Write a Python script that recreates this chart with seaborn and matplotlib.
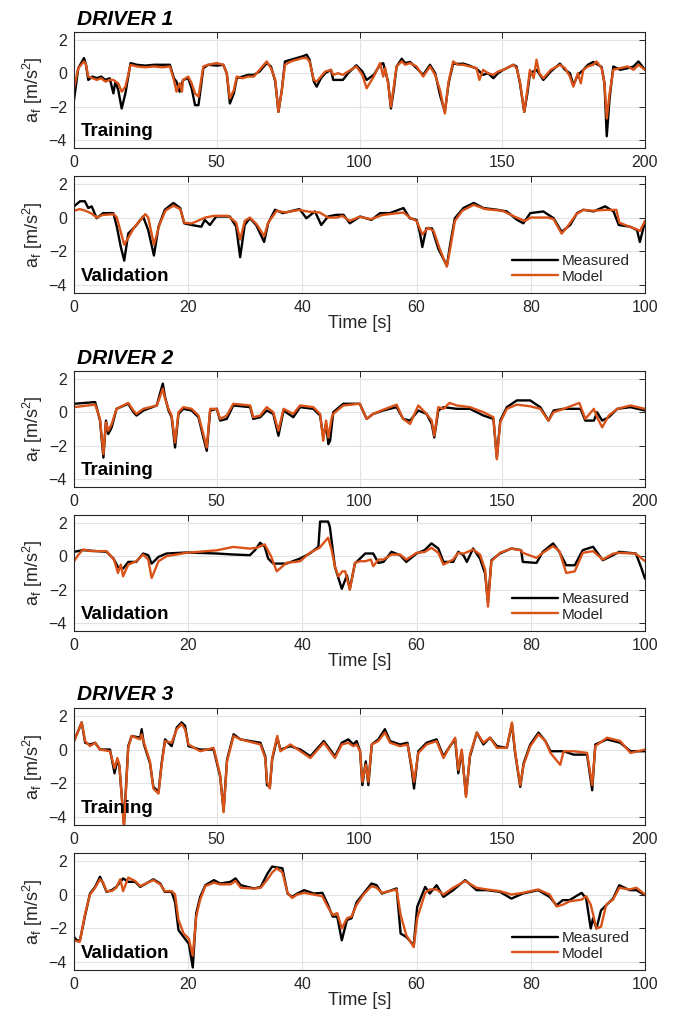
import matplotlib
matplotlib.use("Agg")
import matplotlib.pyplot as plt
import seaborn as sns
import pandas as pd

# ---------------- data (time [s], a_f [m/s^2]) ----------------
d1_train_meas = [(0,-1.6),(1.5,0.3),(3.5,0.9),(4.2,0.5),(5.0,-0.4),(6.5,-0.2),(8,-0.3),(9.5,-0.2),(11,-0.4),(12.5,-0.3),
    (13.8,-1.2),(14.5,-0.5),(15.5,-1.0),(16.7,-2.1),(18,-1.2),(19.8,0.6),(22,0.5),(25,0.45),(28,0.5),(31,0.5),(33.6,0.5),
    (35,-0.3),(35.9,-0.5),(37,-1.1),(38.2,-0.4),(40,-0.3),(41.2,-0.9),(42.4,-1.9),(43.6,-1.9),(45.3,0.3),(47,0.5),(50,0.45),
    (52.3,0.5),(53.5,0.0),(54.6,-1.8),(56,-1.2),(57,-0.3),(59,-0.2),(61,-0.1),(63,-0.1),(65,0.1),(67.5,0.6),(69,0.4),
    (70.5,-0.5),(71.6,-2.3),(72.8,-1.0),(73.9,0.7),(76,0.8),(78,0.9),(80,1.0),(81.5,1.1),(82.5,0.8),(84,-0.5),(85,-0.8),
    (86.5,-0.3),(88,0.0),(90,0.2),(90.8,-0.4),(92.5,-0.4),(94.2,-0.4),(96,0.0),(98.9,0.47),(101,0.1),(102.5,-0.4),
    (105,-0.1),(107.2,0.5),(108.3,0.6),(110,-0.5),(111,-2.1),(112,-1.0),(113,0.4),(114.8,0.86),(116,0.6),(117.7,0.67),
    (120,0.3),(122.3,-0.1),(124.7,0.5),(126.5,0.0),(128.2,-1.3),(129.9,-2.3),(131.2,-0.6),(132.8,0.57),(134.5,0.55),
    (136.4,0.57),(138.5,0.45),(141,0.27),(143.3,-0.1),(145,0.0),(146.9,-0.3),(148.5,0.0),(150.4,0.2),(153.9,0.5),
    (155,0.4),(156.2,-0.6),(157.7,-2.3),(158.8,-1.2),(159.7,0.0),(162,0.2),(164.4,-0.4),(167,0.1),(170.2,0.57),
    (172,0.2),(173.7,0.0),(174.9,-0.7),(176.5,-0.1),(178.4,0.2),(180,0.5),(181.9,0.67),(184.8,0.37),(185.8,-0.6),
    (186.6,-3.75),(187.6,-1.5),(188.9,0.4),(191.3,0.2),(194,0.3),(196,0.4),(197.7,0.7),(200,0.2)]
d1_train_model = [(0,-0.9),(1.5,0.3),(3.5,0.7),(4.2,0.5),(5.0,-0.2),(6.5,-0.3),(8,-0.4),(9.5,-0.3),(11,-0.5),(12.5,-0.4),
    (13.8,-0.4),(14.5,-0.5),(15.5,-0.6),(16.7,-1.1),(18,-0.8),(19.8,0.5),(22,0.4),(25,0.35),(28,0.4),(31,0.35),(33.6,0.4),
    (35,-0.4),(35.9,-1.1),(37,-0.6),(37.8,-1.1),(38.2,-0.4),(40,-0.2),(41.2,-0.6),(42.4,-1.2),(43.6,-1.4),(45.3,0.4),(47,0.5),
    (50,0.6),(52.3,0.5),(53.5,0.0),(54.6,-1.5),(56,-1.0),(57,-0.2),(59,-0.3),(61,-0.2),(63,-0.2),(65,0.2),(67.5,0.7),(69,0.3),
    (70.5,-0.4),(71.6,-2.3),(72.8,-1.0),(73.9,0.5),(76,0.7),(78,0.8),(80,0.9),(81.5,0.9),(82.5,0.7),(84,-0.4),(85,-0.5),
    (86.5,-0.2),(88,0.1),(90,0.2),(90.8,-0.1),(92.5,0.0),(94.2,-0.1),(96,0.1),(98.9,0.4),(101,-0.1),(102.5,-0.9),
    (105,-0.2),(107.2,0.6),(108.3,-0.2),(109,0.3),(110,-0.6),(111,-2.0),(112,-0.8),(113,0.4),(114.8,0.7),(116,0.5),
    (117.7,0.6),(120,0.4),(122.3,-0.2),(124.7,0.4),(126.5,-0.1),(128.2,-1.0),(129.9,-2.4),(131.2,-0.5),(132.8,0.7),
    (134.5,0.5),(136.4,0.5),(138.5,0.4),(141,0.3),(142,-0.4),(143.3,0.2),(145,0.0),(146.9,-0.1),(148.5,0.1),(150.4,0.2),
    (153.9,0.5),(155,0.3),(156.2,-0.5),(157.7,-2.3),(158.8,-1.0),(159.7,0.2),(161,-0.3),(162,0.8),(163,0.0),(164.4,-0.3),
    (167,0.2),(170.2,0.5),(172,0.3),(173.7,-0.2),(174.9,-0.8),(176.5,0.0),(177.5,-0.6),(178.4,0.2),(180,0.4),(181.9,0.5),
    (183,0.7),(184.8,0.3),(185.8,-0.6),(186.6,-2.7),(187.6,-1.2),(188.9,0.2),(191.3,0.3),(194,0.4),(196,0.2),(197.7,0.5),
    (200,0.2)]

d1_val_meas = [(0,0.66),(1.05,0.96),(1.9,0.96),(2.5,0.56),(3.1,0.66),(3.96,-0.04),(5.1,0.26),(6.9,0.26),(7.5,-0.54),
    (8.2,-1.74),(8.8,-2.54),(9.5,-0.94),(10.7,-0.54),(12.1,0.06),(13,-0.74),(14,-2.24),(14.8,-0.54),(15.9,0.46),
    (17.4,0.86),(18.6,0.56),(19.3,-0.34),(20.6,-0.44),(22.3,-0.54),(22.9,-0.14),(23.8,-0.44),(24.9,0.06),(27.3,0.06),
    (28.4,-0.54),(29.1,-2.34),(29.9,-0.44),(30.8,-0.04),(31.9,-0.44),(33.3,-1.44),(34,-0.34),(35.2,0.46),(36.6,0.26),
    (39.5,0.5),(40.7,-0.04),(42.2,0.36),(43.3,-0.44),(44.5,0.06),(45.9,0.16),(47.2,0.16),(48.3,-0.34),(50.1,0.06),
    (52.1,-0.14),(53.6,0.26),(55.3,0.26),(57.7,0.56),(58.8,-0.04),(60,-0.14),(60.6,-0.94),(61,-1.74),(61.7,-0.64),
    (62.7,-0.64),(63.8,-1.84),(64.7,-2.44),(65.3,-2.84),(65.9,-1.54),(66.7,-0.04),(68.2,0.56),(70,0.86),(71.7,0.56),
    (74.1,0.46),(75.8,0.36),(77.6,-0.14),(78.7,-0.34),(79.9,0.26),(82.2,0.36),(84,-0.04),(85.4,-0.84),(86.9,-0.44),
    (88.1,0.26),(89.2,0.46),(91,0.36),(93,0.66),(94.5,0.36),(95.4,-0.44),(97.4,-0.54),(98.6,-0.74),(99.1,-1.44),(100,-0.24)]
d1_val_model = [(0,0.4),(1,0.5),(2,0.4),(3,0.25),(4,0.0),(5,0.15),(7,0.2),(7.5,0.0),(8.8,-1.6),(9.5,-1.2),(10.5,-0.6),
    (12.5,0.2),(13,0.0),(14,-1.6),(15,-0.4),(16,0.4),(17.4,0.7),(18.6,0.5),(19.3,-0.3),(20.6,-0.35),(23,0.0),(24.5,0.1),
    (27,0.1),(28.4,-0.3),(29.1,-1.3),(29.9,-0.2),(30.8,0.0),(32,-0.4),(33.3,-1.1),(34,-0.3),(35.5,0.4),(37,0.3),(39.5,0.45),
    (41,0.35),(43,0.3),(44.5,0.0),(46,0.0),(47,0.1),(48.3,-0.2),(50,0.05),(52,-0.1),(54,0.15),(57.7,0.3),(58.8,0.0),
    (60,-0.2),(61,-1.0),(62,-0.6),(63,-0.8),(64,-1.8),(65.3,-2.9),(66,-1.6),(66.7,-0.2),(68,0.4),(70,0.75),(72,0.5),
    (75,0.4),(77.5,0.0),(79,-0.2),(80,0.0),(83,0.0),(84,-0.1),(85.4,-0.95),(86.5,-0.5),(88,0.2),(89.2,0.45),(91,0.4),
    (93,0.45),(95,0.45),(95.5,-0.3),(97,-0.5),(98.6,-0.7),(99.1,-0.8),(100,-0.2)]

d2_train_meas = [(0,0.5),(7.4,0.6),(7.9,0.3),(9.1,-0.5),(10.3,-2.7),(11.2,-0.5),(12,-1.3),(13.2,-0.9),(14.9,0.2),
    (19,0.5),(20.8,0.0),(21.9,-0.2),(24.3,0.1),(29,0.4),(30.1,1.1),(31.1,1.7),(31.9,0.9),(33.1,0.1),(34.2,-0.3),
    (35.4,-2.1),(36.6,-0.1),(38.3,0.2),(41.2,0.1),(43.6,-0.3),(45.3,-1.5),(46.5,-2.3),(47.7,0.1),(50,0.2),(51.2,-0.5),
    (53.5,-0.4),(55.8,0.4),(61.7,0.3),(62.8,-0.4),(65.2,-0.3),(67.5,0.1),(69.8,-0.1),(71.6,-1.4),(73.4,0.1),(76.8,-0.3),
    (79.2,0.3),(83.8,0.2),(86.2,-0.2),(87.3,-1.5),(88.3,-0.7),(89.1,-1.9),(89.7,-1.7),(90.8,0.0),(94.3,0.5),(100.1,0.5),
    (102.5,-0.4),(104.8,-0.1),(108.3,0.1),(113,0.3),(115.3,-0.4),(117.7,-0.5),(120.6,0.1),(123.5,-0.1),(125.3,-0.7),
    (126.2,-1.5),(127.6,0.1),(129.4,0.3),(134.1,0.2),(138.7,0.2),(143.4,-0.2),(146.9,-0.4),(148.1,-2.7),(149.3,-0.5),
    (151.6,0.3),(155.1,0.7),(159.8,0.7),(163.3,0.3),(166.2,-0.5),(168,0.1),(171.5,0.2),(177.4,0.2),(179.1,-0.5),
    (182.1,-0.5),(183.2,0.0),(185,-0.5),(187.3,-0.3),(190.3,0.2),(194.9,0.3),(200,0.1)]
d2_train_model = [(0,0.3),(7.4,0.45),(7.9,0.2),(9.1,-0.4),(10.3,-2.5),(11.2,-0.6),(12,-1.1),(13.2,-0.7),(14.9,0.2),
    (19,0.55),(20.8,0.1),(21.9,-0.1),(24.3,0.2),(29,0.4),(30.1,0.9),(31.1,1.4),(31.9,0.8),(33.1,0.2),(34.2,-0.2),
    (35.4,-1.8),(36.6,0.0),(38.3,0.3),(41.2,0.2),(43.6,-0.2),(45.3,-1.3),(46.5,-2.1),(47.7,0.2),(50,0.2),(51.2,-0.4),
    (53.5,-0.2),(55.8,0.5),(61.7,0.4),(62.8,-0.3),(65.2,-0.2),(67.5,0.3),(69.8,0.0),(71.6,-1.1),(73.4,0.2),(76.8,-0.1),
    (79.2,0.4),(83.8,0.3),(86.2,-0.1),(87.3,-1.7),(88.3,-0.5),(89.1,-1.5),(90.3,-0.3),(90.8,-0.1),(94.3,0.4),(100.1,0.5),
    (102.5,-0.4),(104.8,-0.1),(108.3,0.15),(113,0.45),(115.3,-0.4),(117.7,-0.7),(120.6,0.4),(123.5,-0.1),(125.3,-0.5),
    (126.2,-1.4),(127.6,0.3),(129.4,0.2),(131.5,0.55),(134.1,0.4),(138.7,0.3),(143.4,0.0),(146.9,-0.3),(148.1,-2.8),
    (149.3,-0.6),(151.6,0.2),(155.1,0.45),(159.8,0.35),(163.3,0.2),(166.2,-0.5),(168,0.0),(171.5,0.2),(177,0.55),
    (179.1,-0.4),(182.1,0.2),(183.2,-0.3),(185,-0.9),(187.3,-0.2),(190.3,0.2),(194.9,0.4),(200,0.2)]

d2_val_meas = [(0,0.26),(1.6,0.36),(5.7,0.26),(6.9,-0.14),(7.7,-0.64),(8.6,-0.74),(9.5,-0.34),(10.9,-0.34),(12.1,0.16),
    (13,0.06),(13.6,-0.44),(14.8,-0.04),(16.2,0.16),(19.7,0.22),(25,0.16),(27.9,0.1),(30.8,0.06),(31.7,0.36),(32.6,0.8),
    (33.4,0.56),(34,-0.14),(34.9,-0.44),(37.2,-0.44),(39.6,-0.14),(41.3,0.16),(42.8,0.56),(43.1,2.06),(44.5,2.06),
    (44.8,1.76),(45.1,0.96),(45.7,-0.64),(46.9,-1.94),(47.8,-1.14),(48.3,-1.94),(49.2,-0.44),(50.1,-0.14),(51,0.16),
    (52.4,0.16),(53.3,-0.4),(54.2,-0.34),(55.6,0.26),(57.1,0.06),(58.2,-0.34),(60,0.16),(61.4,0.36),(62.6,0.76),
    (63.8,0.46),(64.7,-0.34),(66.4,-0.34),(67.3,0.26),(68.2,0.06),(68.8,-0.34),(69.9,0.46),(71.1,-0.14),(72,-1.04),
    (72.5,-2.74),(73.1,-0.24),(74.6,0.16),(76.6,0.46),(78.3,0.36),(78.6,-0.34),(81,-0.4),(82.1,0.26),(83.9,0.76),
    (85,0.26),(86.2,-0.54),(87.7,-0.54),(89.1,0.36),(90.9,0.56),(92.6,-0.24),(94.4,0.06),(95.5,0.26),(98.4,0.16),
    (99.3,-0.64),(100,-1.34)]
d2_val_model = [(0,-0.3),(0.8,0.1),(1.6,0.4),(3,0.3),(5.7,0.3),(7,-0.2),(7.7,-1.0),(8.2,-0.5),(8.6,-1.2),(9.5,-0.5),
    (10.9,-0.3),(12.1,0.1),(13,-0.2),(13.6,-1.3),(14.8,-0.3),(16.2,0.0),(19.7,0.2),(25,0.35),(27.9,0.55),(30.8,0.45),
    (32,0.5),(33.4,0.7),(34.5,0.0),(35.5,-0.9),(37.2,-0.4),(39.6,-0.3),(41.3,0.2),(43,0.5),(44.5,1.1),(45.1,0.4),
    (45.7,-0.6),(46.3,-1.2),(47,-0.9),(47.5,-0.9),(48.3,-2.0),(49.2,-0.4),(50.1,-0.3),(51,-0.3),(52,-0.2),(52.4,-0.6),
    (53.3,-0.2),(54.2,-0.2),(55.6,0.1),(57.1,0.1),(58.2,-0.2),(60,0.2),(61.4,0.25),(62.6,0.5),(63.8,0.2),(64.7,-0.5),
    (66.4,-0.2),(67.3,0.2),(68.2,0.15),(69.9,0.4),(71.1,0.1),(72,-0.8),(72.5,-3.0),(73.1,-0.3),(74.6,0.2),(76.6,0.45),
    (78.3,0.35),(78.6,0.2),(81,-0.1),(82.1,0.2),(83.9,0.6),(85,0.3),(86.2,-1.0),(87.7,-0.9),(89.1,0.2),(90.9,0.3),
    (92.6,-0.2),(94.4,0.15),(95.5,0.2),(98.4,0.15),(100,-0.3)]

d3_train_meas = [(0,0.5),(2.7,1.6),(3.9,0.4),(5.6,0.3),(7.4,0.4),(9.1,0.0),(12.6,0.0),(14.2,-1.4),(15.2,-0.6),(15.9,-1.0),
    (17.5,-4.4),(19,0.2),(20.2,0.8),(23.2,0.7),(23.7,1.2),(24.5,0.3),(26.6,-0.8),(27.8,-2.2),(29.6,-2.5),(30.7,-0.8),
    (31.9,0.6),(34.2,0.2),(36,1.3),(37.7,1.6),(38.9,1.4),(40.1,0.2),(44.2,0.0),(48.9,0.0),(51.2,-1.6),(52.4,-3.6),
    (53.6,-0.6),(55.9,0.9),(58.3,0.6),(65.3,0.4),(67,-0.4),(67.6,-2.1),(68.6,-2.2),(69.4,-0.6),(71.2,0.7),(72.3,0.0),
    (75.8,0.2),(79.3,0.0),(82.8,-0.4),(87.5,0.5),(89.7,0.0),(91.4,-0.4),(93.8,0.4),(96.1,0.6),(97.8,0.3),(99,0.5),
    (100.2,-0.1),(101,-2.1),(102.2,-0.7),(103.1,-2.1),(104.3,0.3),(106.6,0.6),(108.9,1.2),(110.7,0.5),(114.2,0.3),
    (116.8,0.4),(118.3,-1.2),(119.1,-2.3),(120.6,-0.1),(123.5,0.4),(127,0.6),(129.4,-0.4),(131.7,0.2),(133.5,0.6),
    (134.6,-1.4),(135.8,-0.1),(137.3,-2.7),(138.7,-0.4),(141.1,1.0),(143.4,0.3),(145.7,0.7),(148.1,0.2),(151.6,0.1),
    (153.4,1.5),(154.5,-0.2),(156.3,-2.2),(157.5,-0.8),(159.8,0.3),(162.7,1.0),(165.1,0.5),(166.9,-0.1),(171.5,-0.1),
    (175,-0.3),(179.7,-0.3),(181.5,-2.4),(182.6,0.3),(186.7,0.6),(191.3,0.4),(194.9,-0.1),(200,-0.1)]
d3_train_model = [(0,0.5),(2.7,1.6),(3.9,0.5),(5.6,0.2),(7.4,0.4),(9.1,0.0),(12.6,-0.1),(14.2,-1.1),(15.2,-0.5),(15.9,-0.9),
    (17.5,-4.6),(19,0.1),(20.2,0.8),(23.2,0.6),(23.7,0.9),(24.5,0.4),(26.6,-0.7),(27.8,-2.3),(29.6,-2.6),(30.7,-0.9),
    (31.9,0.5),(34.2,0.4),(36,1.2),(37.7,1.5),(38.9,1.2),(40.1,0.3),(44.2,-0.1),(48.9,0.1),(51.2,-1.5),(52.4,-3.7),
    (53.6,-0.7),(55.9,0.8),(58.3,0.6),(65.3,0.3),(67,-0.5),(67.6,-1.9),(68.6,-2.3),(69.4,-0.5),(71.2,0.8),(72.3,-0.1),
    (75.8,0.3),(79.3,-0.1),(82.8,-0.5),(87.5,0.4),(89.7,-0.1),(91.4,-0.5),(93.8,0.3),(96.1,0.4),(97.8,0.2),(99,0.3),
    (100.2,-0.1),(101,-1.9),(102.2,-0.9),(103.1,-1.9),(104.3,0.3),(106.6,0.5),(108.9,1.0),(110.7,0.4),(114.2,0.2),
    (116.8,0.3),(118.3,-1.0),(119.1,-1.9),(120.6,-0.2),(123.5,0.3),(127,0.5),(129.4,-0.5),(131.7,0.2),(133.5,0.7),
    (134.6,-1.2),(135.8,0.0),(137.3,-2.8),(138.7,-0.3),(141.1,1.0),(143.4,0.4),(145.7,0.7),(148.1,0.1),(151.6,0.1),
    (153.4,1.6),(154.5,-0.1),(156.3,-2.1),(157.5,-0.9),(159.8,0.2),(162.7,0.9),(165.1,0.5),(166.9,-0.2),(170.3,-0.9),
    (171.5,-0.1),(175,-0.1),(179.7,-0.2),(181.5,-2.1),(182.6,0.2),(186.7,0.7),(191.3,0.5),(194.9,-0.2),(200,0.0)]

d3_val_meas = [(0,-2.5),(0.5,-2.7),(1.05,-2.7),(1.9,-1.3),(2.8,0.06),(3.7,0.45),(4.55,1.05),(5.1,0.65),(5.7,0.16),
    (6.6,0.26),(7.4,0.45),(8.6,0.95),(9.5,0.75),(10.7,0.75),(11.6,0.45),(13.9,0.9),(15.1,0.65),(15.9,0.16),(17.1,0.16),
    (17.7,-0.45),(18.3,-2.1),(19.2,-2.5),(20.1,-2.9),(20.8,-4.3),(21.4,-1.1),(22.1,-0.14),(23,0.55),(24.5,0.85),
    (25.6,0.65),(27.4,0.75),(28.3,0.95),(29.2,0.55),(31.5,0.36),(32.7,0.45),(33.9,1.25),(34.7,1.65),(36.5,1.55),
    (37.4,0.06),(38.2,-0.14),(39.1,0.06),(40.3,0.26),(42,0.06),(43.5,0.1),(44.4,-0.55),(45.3,-1.3),(46.1,-1.3),
    (46.9,-2.7),(47.8,-1.5),(48.6,-1.4),(49.5,-0.45),(50.7,0.06),(52.1,0.65),(53,0.55),(53.9,0.06),(56.5,0.36),
    (57.2,-2.3),(58.2,-2.5),(59.5,-3.0),(60.1,-0.73),(61.5,0.45),(62.3,0.06),(63.5,0.55),(64.7,-0.14),(66.4,0.26),
    (68.5,0.85),(70.5,0.26),(72.3,0.26),(74.6,0.16),(76.6,-0.24),(78.6,0.06),(81.3,0.26),(83.3,-0.14),(84.5,-0.63),
    (85.6,-0.33),(86.8,-0.33),(88.9,0.1),(89.7,-0.24),(90.5,-2.0),(90.9,-1.4),(91.5,-2.0),(92.3,-0.93),(93.2,-0.63),
    (94.4,-0.24),(95.5,0.55),(97.3,0.26),(98.5,0.26),(100,-0.04)]
d3_val_model = [(0,-2.7),(1,-2.8),(1.9,-1.2),(2.8,0.0),(3.7,0.4),(4.55,0.9),(5.1,0.7),(5.7,0.2),(6.6,0.2),(7.4,0.4),
    (8.1,0.9),(8.6,0.2),(9.5,1.0),(10.7,0.8),(11.6,0.5),(13.9,0.85),(15.1,0.6),(15.9,0.2),(17.1,0.2),(17.7,0.0),
    (18.3,-1.5),(19.2,-2.3),(20.1,-2.6),(20.8,-3.6),(21.4,-1.3),(22.1,-0.3),(23,0.5),(24.5,0.7),(25.6,0.6),(27.4,0.6),
    (28.3,0.8),(29.2,0.4),(31.5,0.35),(32.7,0.4),(33.9,0.9),(34.7,1.3),(35.5,1.55),(36.5,1.3),(37.4,0.1),(38.2,-0.2),
    (39.1,0.0),(40.3,0.1),(42,0.0),(43.5,-0.1),(44.4,-0.7),(45.3,-1.2),(46.1,-1.1),(46.9,-2.0),(47.8,-1.4),(48.6,-1.3),
    (49.5,-0.6),(50.7,0.0),(52.1,0.5),(53,0.4),(53.9,0.1),(56.5,0.3),(57.2,-1.2),(58.2,-2.4),(59.5,-3.1),(60.1,-1.4),
    (61.5,0.1),(62.3,0.3),(63.5,0.3),(64.7,0.0),(66.4,0.4),(68.5,0.8),(70.5,0.4),(72.3,0.3),(74.6,0.2),(76.6,0.0),
    (78.6,0.1),(81.3,0.3),(83.3,0.0),(84.5,-0.7),(85.6,-0.6),(86.8,-0.4),(88.9,-0.3),(89.7,-0.1),(90.5,-0.6),
    (91.5,-2.0),(92.3,-1.9),(93.2,-0.6),(94.4,-0.3),(95.5,0.4),(97.3,0.3),(98.5,0.4),(100,0.0)]

panel_titles = ["DRIVER 1", None, "DRIVER 2", None, "DRIVER 3", None]
panel_tags = ["Training", "Validation"] * 3
series_names = ["Measured", "Model"]
train_xticks = [0, 50, 100, 150, 200]
val_xticks = [0, 20, 40, 60, 80, 100]
y_ticks = [-4, -2, 0, 2]

panels = [(d1_train_meas, d1_train_model), (d1_val_meas, d1_val_model),
          (d2_train_meas, d2_train_model), (d2_val_meas, d2_val_model),
          (d3_train_meas, d3_train_model), (d3_val_meas, d3_val_model)]

# ---------------- style ----------------
sns.set_theme(style="white")
plt.rcParams['font.family'] = ['Liberation Sans', 'DejaVu Sans']
plt.rcParams['mathtext.fontset'] = 'custom'
plt.rcParams['mathtext.rm'] = 'Liberation Sans'
plt.rcParams['mathtext.it'] = 'Liberation Sans:italic'
TXT = '#262626'
COLORS = {"Measured": "#000000", "Model": "#D95319"}

fig = plt.figure(figsize=(6.76, 10.19), dpi=100)
W, H = 676, 1019
boxes = [(32, 148), (176, 293), (371, 487), (515, 631), (708, 825), (853, 970)]
left_px, width_px = 74, 571

for i, ((meas, model), (top, bot)) in enumerate(zip(panels, boxes)):
    ax = fig.add_axes([left_px / W, 1 - bot / H, width_px / W, (bot - top) / H])
    rows = []
    for name, ser in zip(series_names, (meas, model)):
        for t, v in ser:
            rows.append({"Time": t, "a": v, "Series": name})
    df = pd.DataFrame(rows)
    sns.lineplot(data=df, x="Time", y="a", hue="Series", palette=COLORS, estimator=None,
                 sort=True, linewidth=1.7, ax=ax, legend=(i % 2 == 1))
    training = (i % 2 == 0)
    ax.set_xlim(0, 200 if training else 100)
    ax.set_ylim(-4.45, 2.45)
    ax.set_xticks(train_xticks if training else val_xticks)
    ax.set_yticks(y_ticks)
    ax.grid(True, color='#e3e3e3', linewidth=0.8)
    ax.set_axisbelow(True)
    for sp in ax.spines.values():
        sp.set_color(TXT)
        sp.set_linewidth(0.8)
    ax.tick_params(direction='in', top=True, right=True, length=4, width=0.7,
                   colors=TXT, labelsize=11.5, pad=5)
    ax.set_ylabel(r'$\mathregular{a_f}$ [m/s$^2$]', fontsize=13, color=TXT, labelpad=3)
    if training:
        ax.set_xlabel('')
    else:
        ax.set_xlabel('Time [s]', fontsize=13, color=TXT, labelpad=0)
        leg = ax.legend(loc='lower right', frameon=False, fontsize=11, handlelength=3.0,
                        handletextpad=0.3, labelspacing=0.1, borderaxespad=0.2,
                        bbox_to_anchor=(0.99, 0.0))
        for txt in leg.get_texts():
            txt.set_color(TXT)
    ax.text(0.012, 0.07, panel_tags[i], transform=ax.transAxes, fontsize=13.5,
            fontweight='bold', color='black', ha='left', va='bottom')
    if panel_titles[i]:
        ax.text(0.005, 1.03, panel_titles[i], transform=ax.transAxes, fontsize=15,
                fontweight='bold', fontstyle='italic', color='black', ha='left', va='bottom')

fig.savefig('out.png', dpi=100)
